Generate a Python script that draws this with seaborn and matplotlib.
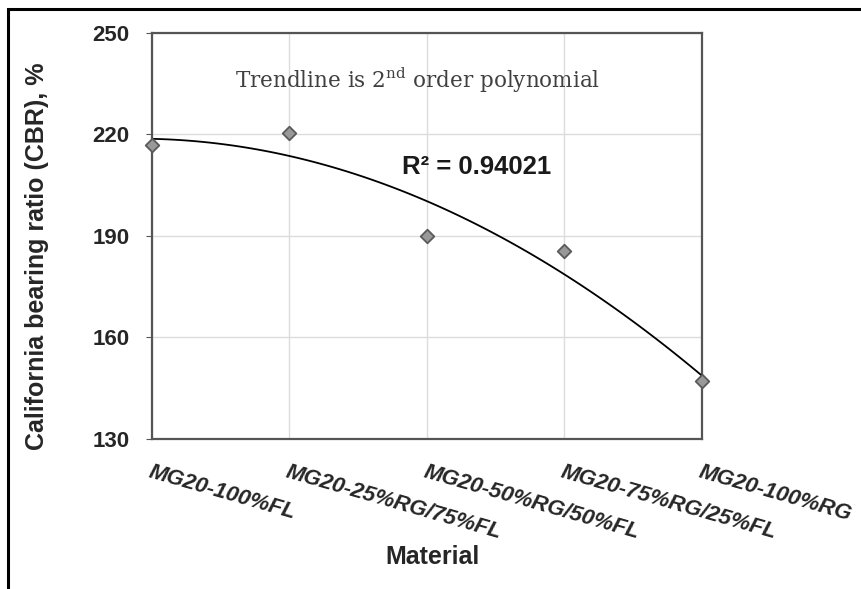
import numpy as np
import pandas as pd
import matplotlib
matplotlib.use("Agg")
import matplotlib.pyplot as plt
from matplotlib.patches import Rectangle
import seaborn as sns

materials = ["MG20-100%FL", "MG20-25%RG/75%FL", "MG20-50%RG/50%FL",
             "MG20-75%RG/25%FL", "MG20-100%RG"]
cbr = [217, 220.5, 190, 185.5, 147]
y_ticks = [130, 160, 190, 220, 250]

df = pd.DataFrame({"pos": np.arange(len(materials)), "cbr": cbr, "Material": materials})

sns.set_style("white")
plt.rcParams["font.family"] = ["Liberation Sans", "DejaVu Sans"]
plt.rcParams["mathtext.fontset"] = "custom"
plt.rcParams["mathtext.rm"] = "DejaVu Serif"

fig = plt.figure(figsize=(8.62, 5.89), dpi=100)
ax = fig.add_axes([0.1763, 0.2547, 0.638, 0.6893])

# outer frame of the original figure
fig.patches.append(Rectangle((8 / 862, -0.1), 1.2, 1 - 9 / 589 + 0.1, transform=fig.transFigure,
                             fill=False, edgecolor="black", linewidth=2.2, zorder=0))

# 2nd order polynomial trendline
sns.regplot(data=df, x="pos", y="cbr", order=2, ci=None, scatter=False, ax=ax,
            line_kws={"color": "black", "linewidth": 1.3, "zorder": 3})
sns.scatterplot(data=df, x="pos", y="cbr", marker="D", s=48, color="#999999",
                edgecolor="#5a5a5a", linewidth=1.3, ax=ax, zorder=4, clip_on=False)

ax.set_xlim(0, len(materials) - 1)
ax.set_ylim(130, 250)
ax.set_yticks(y_ticks)
ax.set_yticklabels([str(v) for v in y_ticks], fontsize=16, fontweight="bold")
ax.set_xticks(df["pos"])
ax.set_xticklabels(materials, rotation=-16, ha="left", va="top", rotation_mode="anchor",
                   fontsize=16, fontweight="bold", style="italic")
ax.tick_params(axis="x", pad=16, length=4, direction="in", color="#555555")
ax.tick_params(axis="y", pad=12, length=4, direction="out", color="#555555", left=True)
ax.grid(True, color="#dcdcdc", linewidth=1)
ax.set_axisbelow(True)
for sp in ax.spines.values():
    sp.set_color("#555555")
    sp.set_linewidth(1.6)

ax.set_xlabel("Material", fontsize=18, fontweight="bold")
ax.set_ylabel("California bearing ratio (CBR), %", fontsize=18, fontweight="bold")
ax.xaxis.set_label_coords(0.51, -0.262)
ax.yaxis.set_label_coords(-0.188, 0.451)

ax.text(0.483, 0.884, r"Trendline is 2$^{\mathrm{nd}}$ order polynomial", transform=ax.transAxes,
        ha="center", va="center", fontsize=15.5, color="#404040", family="DejaVu Serif")
ax.text(0.455, 0.67, "R² = 0.94021", transform=ax.transAxes, ha="left", va="center",
        fontsize=18.5, fontweight="bold", color="#1a1a1a")

fig.savefig("out.png", dpi=100)
